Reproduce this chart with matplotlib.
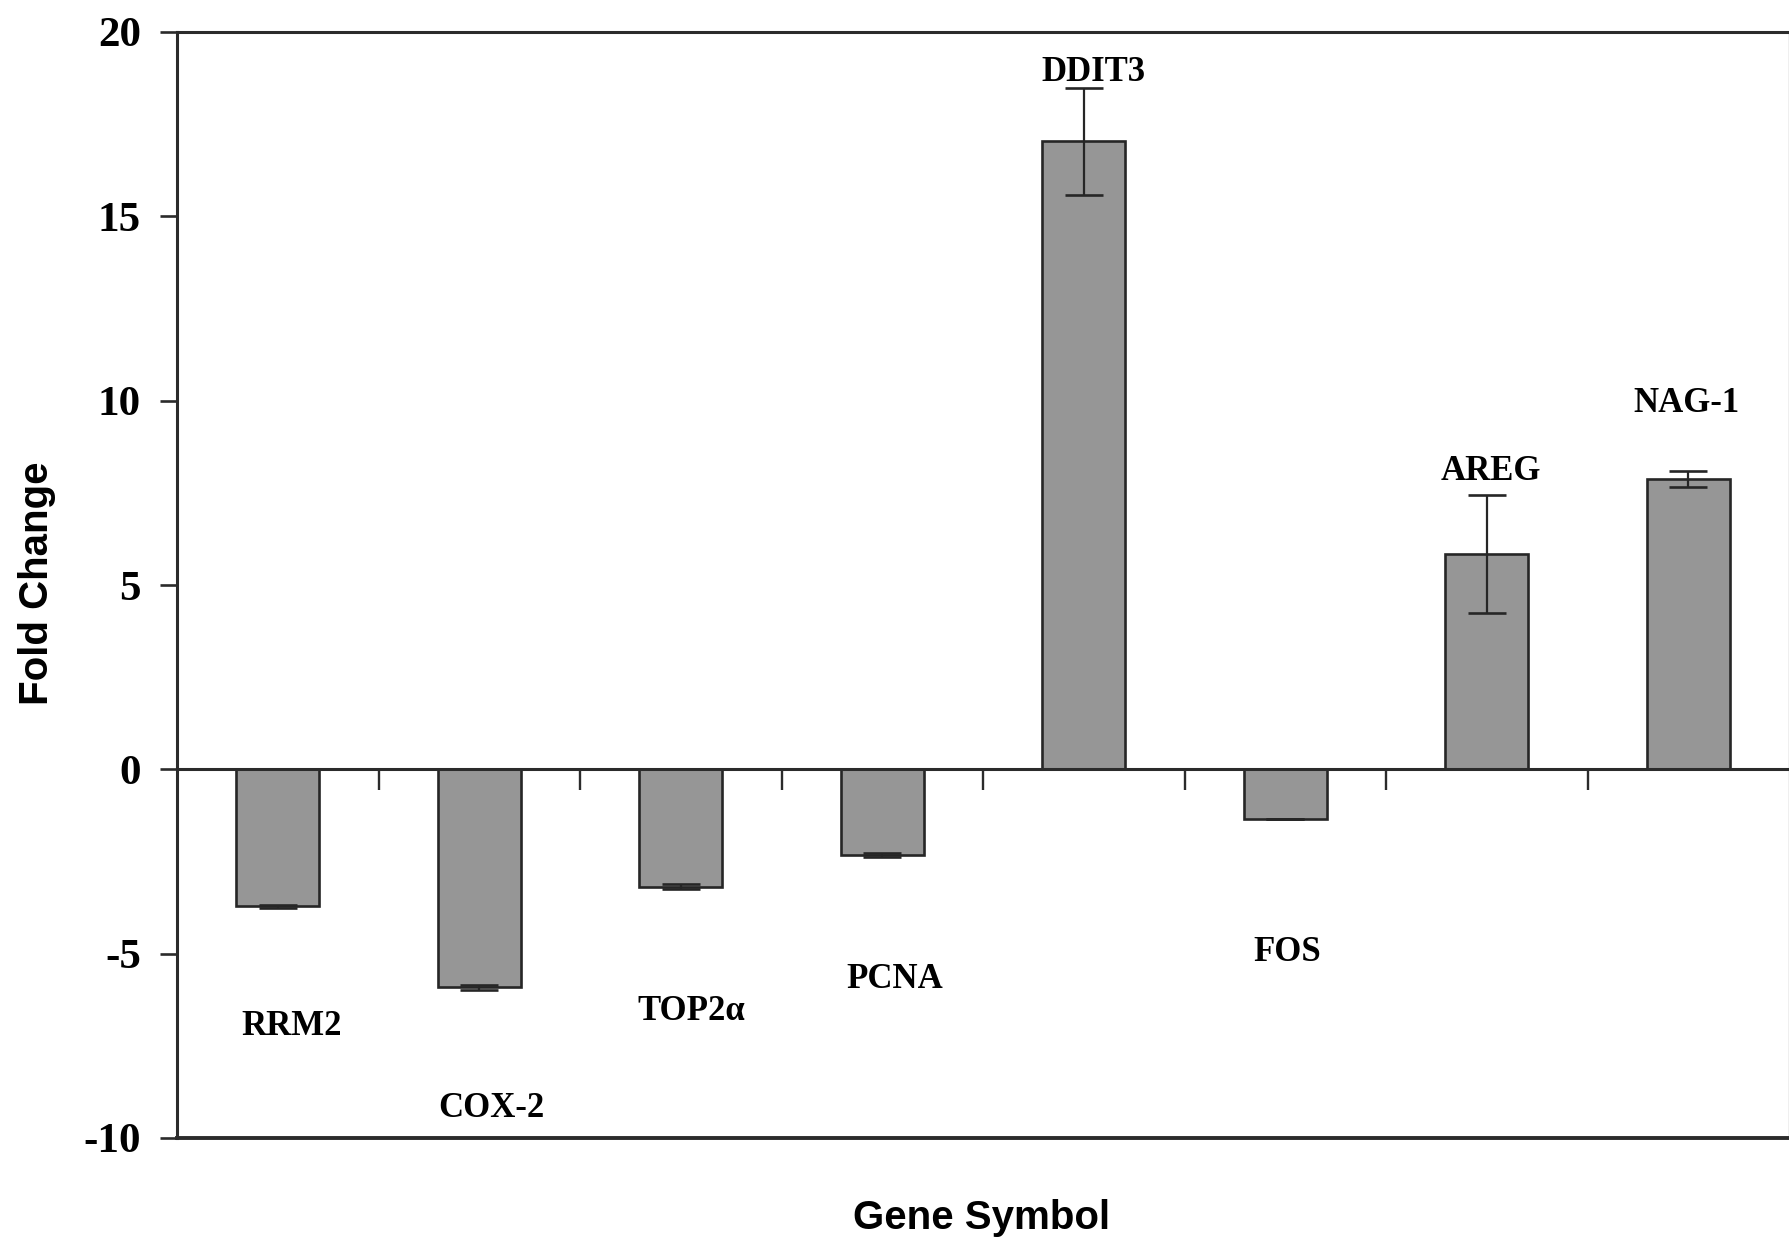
import matplotlib
matplotlib.use("Agg")
import matplotlib.pyplot as plt
import numpy as np

# ---- data ----
genes = ["RRM2", "COX-2", "TOP2\u03b1", "PCNA", "DDIT3", "FOS", "AREG", "NAG-1"]
fold_change = [-3.72, -5.91, -3.18, -2.32, 17.03, -1.35, 5.84, 7.88]
errors = [0.05, 0.07, 0.07, 0.06, 1.44, 0.0, 1.59, 0.21]
# label placement (layout, data units)
label_y = [-6.97, -9.2, -6.57, -5.70, 18.91, -4.96, 8.07, 9.93]
label_dx = [0.07, 0.06, 0.05, 0.06, 0.05, 0.01, 0.02, -0.01]
yticks = [-10, -5, 0, 5, 10, 15, 20]

W, H = 1790, 1249
fig = plt.figure(figsize=(W / 100, H / 100), dpi=100)
ax = fig.add_axes([177 / W, 1 - 1138 / H, (1789 - 177) / W, (1138 - 32) / H])

x = np.arange(len(genes))
spine_col = "#2b2b2b"
ax.bar(x, fold_change, width=0.41, color="#969696", edgecolor="#262626",
       linewidth=1.9, zorder=2)
ax.errorbar(x, fold_change, yerr=errors, fmt="none", ecolor="#262626",
            elinewidth=1.6, capsize=14, capthick=1.9, zorder=3)

ax.set_xlim(-0.5, len(genes) - 0.5)
ax.set_ylim(-10, 20)
ax.set_yticks(yticks)
ax.set_yticklabels([str(v) for v in yticks], fontfamily="Liberation Serif",
                   fontweight="bold", fontsize=31)
ax.tick_params(axis="y", direction="out", length=12, width=1.9, pad=14,
               color=spine_col)

# zero line acts as the category axis
ax.spines["bottom"].set_position(("data", 0))
ax.spines["bottom"].set_linewidth(2.2)
ax.spines["bottom"].set_color(spine_col)
ax.set_xticks(np.arange(0.5, len(genes) - 1, 1.0))
ax.set_xticklabels([])
ax.tick_params(axis="x", direction="out", length=15, width=1.7, color=spine_col)

for s in ["left", "top"]:
    ax.spines[s].set_linewidth(2.2)
    ax.spines[s].set_color(spine_col)
ax.spines["right"].set_linewidth(1.0)
ax.spines["right"].set_color("#b0b0b0")
# plot-area bottom border
ax.axhline(-10, color=spine_col, linewidth=2.8, clip_on=False, zorder=4)

for i, (g, ly, dx) in enumerate(zip(genes, label_y, label_dx)):
    ax.text(i + dx, ly, g, ha="center", va="center",
            fontfamily="Liberation Serif", fontweight="bold", fontsize=25)

fig.text(37 / W, 1 - 583 / H, "Fold Change", rotation=90, ha="center",
         va="center", fontfamily="Liberation Sans", fontweight="bold",
         fontsize=29)
fig.text(982 / W, 1 - 1218 / H, "Gene Symbol", ha="center", va="center",
         fontfamily="Liberation Sans", fontweight="bold", fontsize=29)

fig.savefig("out.png", dpi=100)
